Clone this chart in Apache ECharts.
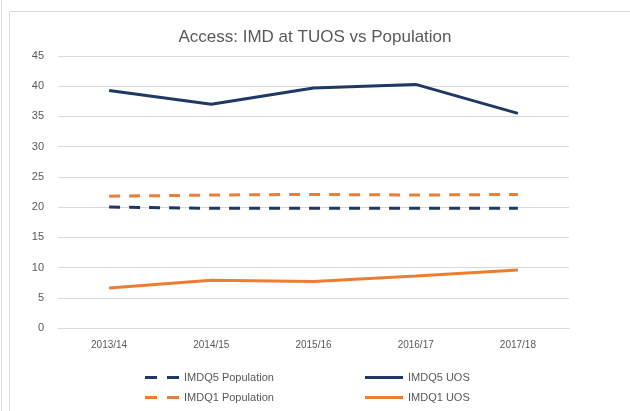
<!DOCTYPE html>
<html>
<head>
<meta charset="utf-8">
<script src="https://cdn.jsdelivr.net/npm/echarts@6/dist/echarts.min.js"></script>
<style>
    html, body { margin: 0; padding: 0; background: #fff; }
    #chart { width: 630px; height: 411px; }
</style>
</head>
<body>
<div id="chart"></div>
<script>
const years = ['2013/14', '2014/15', '2015/16', '2016/17', '2017/18'];
const q5Population = [20.0, 19.8, 19.8, 19.8, 19.8];
const q1Population = [21.8, 22.0, 22.1, 22.0, 22.1];
const q5Uos = [39.3, 37.0, 39.7, 40.3, 35.5];
const q1Uos = [6.6, 7.9, 7.7, 8.6, 9.6];

const navy = '#203864';
const orange = '#ED7D31';
const textColor = '#595959';
const fontFamily = 'Liberation Sans, sans-serif';

const dashIcon = 'path://M0,0h12v3h-12z M22,0h12v3h-12z';

const chart = echarts.init(document.getElementById('chart'));

function lineSeries(name, data, color, dashed) {
    return {
        name: name,
        type: 'line',
        data: data,
        symbol: 'none',
        color: color,
        lineStyle: {
            color: color,
            width: 3,
            type: dashed ? [11, 9] : 'solid'
        }
    };
}

function legendColumn(id, names, left, icon, width) {
    return {
        id: id,
        show: true,
        orient: 'vertical',
        left: left,
        top: 367,
        icon: icon,
        itemWidth: width,
        itemHeight: 3,
        itemGap: 9,
        data: names,
        textStyle: {color: textColor, fontSize: 11, fontFamily: fontFamily}
    };
}

chart.setOption({
    animation: false,
    title: {
        text: 'Access: IMD at TUOS vs Population',
        left: 'center',
        top: 24,
        textStyle: {color: textColor, fontSize: 17, fontWeight: 'normal', fontFamily: fontFamily}
    },
    graphic: [{
        type: 'rect',
        shape: {x: 9.5, y: 11.5, width: 640, height: 420},
        style: {fill: 'none', stroke: '#d9d9d9', lineWidth: 1}
    }, {
        type: 'line',
        shape: {x1: 1.5, y1: 0, x2: 1.5, y2: 411},
        style: {stroke: '#d9d9d9', lineWidth: 1}
    }],
    legend: [
        legendColumn('pop', ['IMDQ5 Population', 'IMDQ1 Population'], 140, dashIcon, 34),
        legendColumn('uos', ['IMDQ5 UOS', 'IMDQ1 UOS'], 360, 'rect', 38)
    ],
    grid: {
        left: 58,
        right: 61,
        top: 56,
        bottom: 83
    },
    xAxis: {
        type: 'category',
        data: years,
        boundaryGap: true,
        axisLine: {lineStyle: {color: '#d9d9d9'}},
        axisTick: {show: false},
        axisLabel: {color: textColor, fontSize: 10, fontFamily: fontFamily, margin: 12}
    },
    yAxis: {
        type: 'value',
        min: 0,
        max: 45,
        interval: 5,
        axisLine: {show: false},
        axisTick: {show: false},
        axisLabel: {color: textColor, fontSize: 11, fontFamily: fontFamily, margin: 14},
        splitLine: {lineStyle: {color: '#d9d9d9'}}
    },
    series: [
        lineSeries('IMDQ5 Population', q5Population, navy, true),
        lineSeries('IMDQ1 Population', q1Population, orange, true),
        lineSeries('IMDQ5 UOS', q5Uos, navy, false),
        lineSeries('IMDQ1 UOS', q1Uos, orange, false)
    ]
});
</script>
</body>
</html>
